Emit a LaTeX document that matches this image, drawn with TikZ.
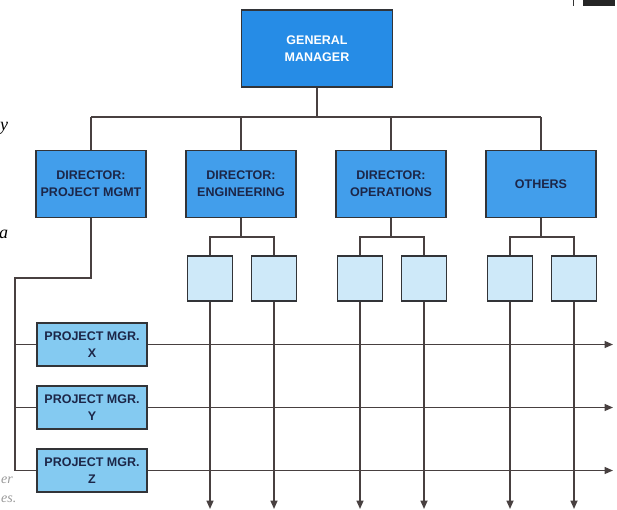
\documentclass[tikz,border=0pt]{standalone}
\usepackage{fontspec}
\setmainfont{Liberation Serif}
\newfontfamily\boxfont{Liberation Sans}
\usetikzlibrary{arrows.meta,calc}

\definecolor{gmblue}{RGB}{38,140,230}
\definecolor{dirblue}{RGB}{66,158,235}
\definecolor{pmblue}{RGB}{132,202,241}
\definecolor{subblue}{RGB}{206,233,249}
\definecolor{edge}{RGB}{50,52,56}
\definecolor{wire}{RGB}{72,64,64}
\definecolor{navy}{RGB}{28,38,72}

\tikzset{
  box/.style={draw=edge, line width=1.4pt, rectangle, inner sep=0pt, align=center,
    font=\boxfont\bfseries\fontsize{12.5}{17}\selectfont},
  gmbox/.style={box, fill=gmblue, text=white, minimum width=151pt, minimum height=77pt},
  dirbox/.style={box, fill=dirblue, text=navy, minimum width=110pt, minimum height=67pt},
  subbox/.style={box, fill=subblue, minimum width=45pt, minimum height=45pt},
  pmbox/.style={box, fill=pmblue, text=navy, minimum width=110pt, minimum height=43pt},
  wireline/.style={draw=wire, line width=1.6pt},
  flow/.style={wireline, -{Triangle[length=8.5pt,width=7pt]}},
  margintext/.style={font=\itshape\fontsize{18}{18}\selectfont, anchor=base west, inner sep=0pt},
  pagenote/.style={margintext, text=black!40, font=\itshape\fontsize{14}{14}\selectfont},
}

\begin{document}
\begin{tikzpicture}[x=1pt,y=-1pt]
\useasboundingbox (0,0) rectangle (617,510);

% general manager
\node[gmbox] (gm) at (317,48.5) {GENERAL\\MANAGER};

% directors
\node[dirbox] (d1) at (91,184)  {DIRECTOR:\\PROJECT MGMT};
\node[dirbox] (d2) at (241,184) {DIRECTOR:\\ENGINEERING};
\node[dirbox] (d3) at (391,184) {DIRECTOR:\\OPERATIONS};
\node[dirbox] (d4) at (541,184) {OTHERS};

% functional units under each director
\foreach \d/\cx in {2/241,3/391,4/541} {
  \node[subbox] (s\d a) at (\cx-31,278.5) {};
  \node[subbox] (s\d b) at (\cx+33,278.5) {};
}

% project managers
\node[pmbox] (px) at (92,344.5) {PROJECT MGR.\\X};
\node[pmbox] (py) at (92,407.5) {PROJECT MGR.\\Y};
\node[pmbox] (pz) at (92,470.5) {PROJECT MGR.\\Z};

% junction points
\coordinate (bar) at (0,117);
\coordinate (spine) at (15,278);

% tree from the general manager
\draw[wireline] (gm.south) -- (gm.south |- bar);
\foreach \d in {d1,d2,d3,d4}
  \draw[wireline] (\d.north) -- (\d.north |- bar);
\draw[wireline] (d1.north |- bar) -- (d4.north |- bar);

% tree from each director to its units
\foreach \d in {2,3,4} {
  \draw[wireline] (d\d.south) -- ++(0,19);
  \draw[wireline] (s\d a.north) |- ($(d\d.south)+(0,19)$) -| (s\d b.north);
}

% project management line
\draw[wireline] (d1.south) |- (spine) |- (pz.west);
\draw[wireline] (spine |- px.west) -- (px.west);
\draw[wireline] (spine |- py.west) -- (py.west);

% project flows across the functions
\coordinate (east) at (613,0);
\foreach \p in {px,py,pz}
  \draw[flow] (\p.east) -- (\p.east -| east);

% functional flows downward
\coordinate (south) at (0,509);
\foreach \d in {2,3,4} {
  \draw[flow] (s\d a.south) -- (s\d a.south |- south);
  \draw[flow] (s\d b.south) -- (s\d b.south |- south);
}

% fragments of the surrounding page
\node[margintext, text=black] (m1) at (0,131) {y};
\node[margintext, text=black] (m2) at (-1,238) {a};
\node[pagenote] (m3) at (1,483) {er};
\node[pagenote] (m4) at (1,502) {es.};
\fill[black!85] (583,0) rectangle (615,6);
\draw[black!80, line width=0.8pt] (573.5,0) -- (573.5,6);
\end{tikzpicture}
\end{document}
